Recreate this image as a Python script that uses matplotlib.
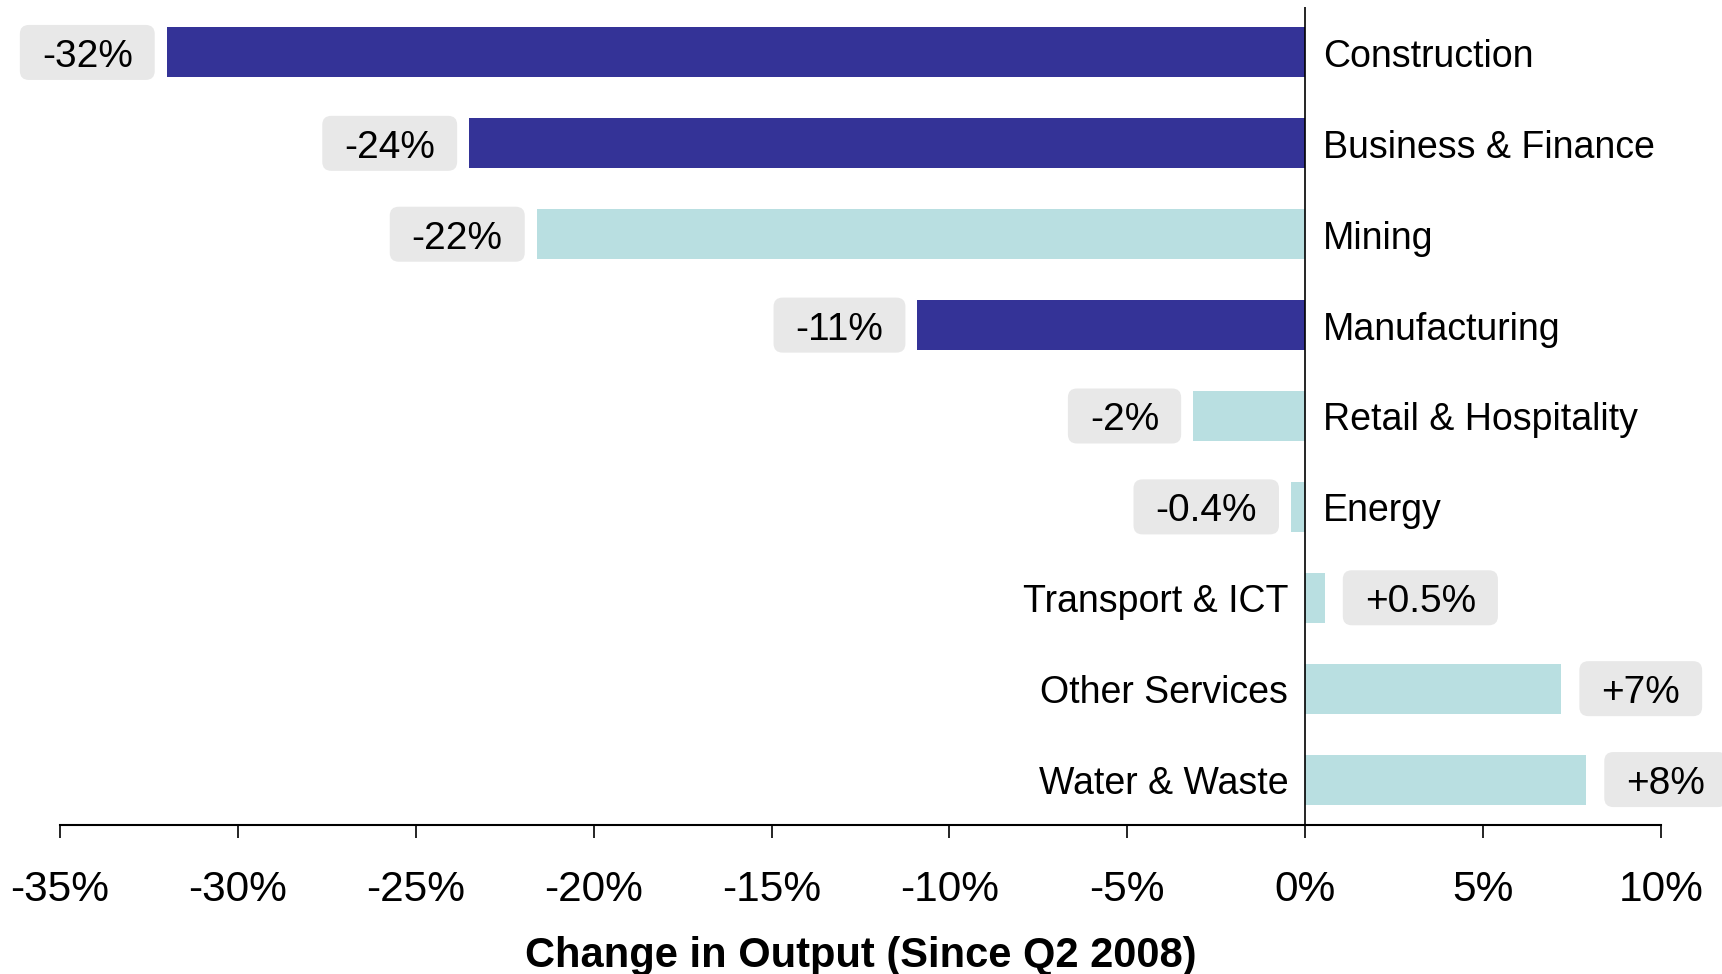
import matplotlib.pyplot as plt
from matplotlib.patches import FancyBboxPatch
from matplotlib.transforms import IdentityTransform

plt.rcParams['font.family'] = ['Liberation Sans', 'DejaVu Sans']

sectors = ['Construction', 'Business & Finance', 'Mining', 'Manufacturing',
           'Retail & Hospitality', 'Energy', 'Transport & ICT', 'Other Services',
           'Water & Waste']
change = [-32.0, -23.5, -21.6, -10.9, -3.15, -0.4, 0.55, 7.2, 7.9]
value_labels = ['-32%', '-24%', '-22%', '-11%', '-2%', '-0.4%', '+0.5%', '+7%', '+8%']
highlight = [True, True, False, True, False, False, False, False, False]
xticks = [-35, -30, -25, -20, -15, -10, -5, 0, 5, 10]
xtick_labels = ['-35%', '-30%', '-25%', '-20%', '-15%', '-10%', '-5%', '0%', '5%', '10%']

dark = '#343397'
light = '#b9dfe1'
boxgray = '#e8e8e8'

fig = plt.figure(figsize=(17.22, 9.74), dpi=100)
ax = fig.add_axes([60 / 1722, 149 / 974, (1661 - 60) / 1722, (967 - 149) / 974])

rows = list(range(len(sectors)))
colors = [dark if h else light for h in highlight]
ax.barh(rows, change, height=0.55, color=colors, zorder=2)

ax.set_xlim(-35, 10)
ax.set_ylim(len(sectors) - 0.5, -0.5)
ax.axvline(0, color='black', lw=1.2, zorder=3)

for s in ['left', 'top', 'right']:
    ax.spines[s].set_visible(False)
ax.spines['bottom'].set_linewidth(1.5)
ax.set_yticks([])
ax.set_xticks(xticks)
ax.set_xticklabels(xtick_labels, fontsize=30.5)
ax.tick_params(axis='x', direction='out', length=9.5, width=1.2, pad=23)
ax.set_xlabel('Change in Output (Since Q2 2008)', fontsize=30, fontweight='bold')
ax.xaxis.label.set_va('baseline')
ax.xaxis.set_label_coords(0.5, (7 - 149) / 818)

fig.canvas.draw()
renderer = fig.canvas.get_renderer()

# text sits a little low in the reference
dy = 4.5
boxh = 55
for i, (v, lab, name) in enumerate(zip(change, value_labels, sectors)):
    px, py = ax.transData.transform((v, i))
    zx, _ = ax.transData.transform((0, i))
    t = ax.text(0, 0, lab, fontsize=28, transform=IdentityTransform())
    tw = t.get_window_extent(renderer).width
    t.remove()
    bw = tw + 44
    if v < 0:
        right = px - 12
        left = right - bw
        ax.text(zx + 18, py - dy, name, fontsize=27, va='center', ha='left',
                transform=IdentityTransform())
    else:
        left = px + 18
        right = left + bw
        ax.text(zx - 17, py - dy, name, fontsize=27, va='center', ha='right',
                transform=IdentityTransform())
    box = FancyBboxPatch((left, py - boxh / 2), bw, boxh,
                         boxstyle='round,pad=0,rounding_size=9',
                         facecolor=boxgray, edgecolor='none',
                         transform=IdentityTransform(), clip_on=False, zorder=1)
    ax.add_artist(box)
    ax.text((left + right) / 2, py - dy, lab, fontsize=28, va='center', ha='center',
            transform=IdentityTransform(), zorder=4)

fig.savefig('out.png', dpi=100)
